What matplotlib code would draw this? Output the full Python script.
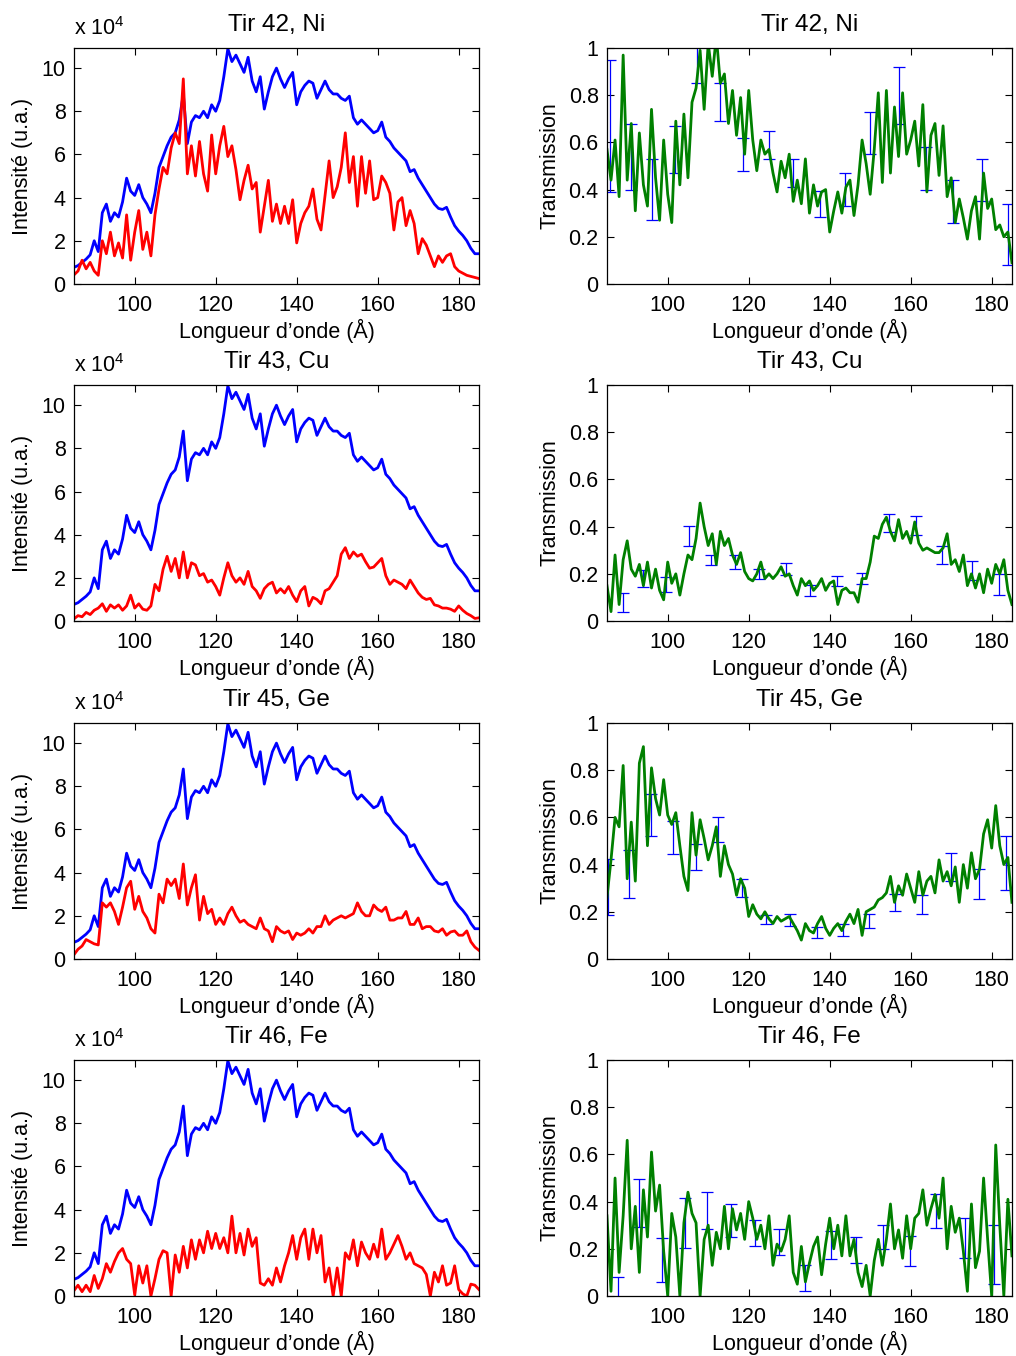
import numpy as np
import matplotlib
matplotlib.use("Agg")
import matplotlib.pyplot as plt

plt.rcParams['font.family'] = ['Liberation Sans', 'DejaVu Sans']
plt.rcParams['mathtext.fontset'] = 'custom'
plt.rcParams['mathtext.rm'] = 'Liberation Sans'
plt.rcParams['mathtext.it'] = 'Liberation Sans:italic'

# ---------------- data ----------------
wavelength = np.arange(85, 186, 1)  # Angstrom, 85..185

# reference spectrum (x 1e4), identical in every left panel
ref_blue = [
    0.77, 0.85, 1.0, 1.15, 1.35, 2.0, 1.5, 3.3, 3.7, 2.9,
    3.3, 3.1, 3.8, 4.9, 4.3, 4.1, 4.6, 4.0, 3.7, 3.3,
    4.2, 5.4, 5.9, 6.4, 6.8, 7.0, 7.6, 8.8, 6.5, 7.5,
    7.8, 7.7, 8.0, 7.7, 8.3, 8.0, 8.5, 9.6, 10.9, 10.3,
    10.6, 10.2, 9.8, 10.5, 9.4, 8.9, 9.6, 8.1, 8.9, 9.6,
    10.0, 9.5, 9.1, 9.5, 9.8, 8.3, 8.9, 9.2, 9.4, 9.3,
    8.6, 9.0, 9.4, 9.0, 8.8, 8.8, 8.6, 8.5, 8.7, 7.7,
    7.4, 7.6, 7.4, 7.2, 7.0, 7.1, 7.5, 6.8, 6.6, 6.3,
    6.1, 5.9, 5.7, 5.2, 5.3, 4.9, 4.6, 4.3, 4.0, 3.7,
    3.5, 3.45, 3.55, 3.1, 2.7, 2.45, 2.25, 2.0, 1.65, 1.4,
    1.4]

# transmitted spectra (x 1e4)
red_ni = [
    0.42, 0.6, 1.1, 0.7, 1.0, 0.6, 0.4, 2.0, 1.4, 2.4,
    1.3, 1.9, 1.2, 3.2, 1.1, 2.4, 3.4, 1.6, 2.4, 1.3,
    3.2, 4.4, 5.4, 5.1, 6.3, 7.0, 6.5, 9.5, 5.1, 6.4,
    5.0, 6.6, 5.1, 4.3, 6.9, 5.1, 6.4, 7.3, 5.9, 6.4,
    5.3, 3.9, 4.8, 5.5, 4.4, 4.7, 2.4, 3.6, 4.8, 2.9,
    3.7, 2.8, 3.6, 2.8, 3.9, 1.9, 2.8, 3.3, 3.6, 4.4,
    3.0, 2.5, 4.1, 5.7, 4.0, 4.5, 5.4, 7.0, 4.7, 5.9,
    3.6, 5.9, 4.2, 5.7, 3.9, 4.0, 5.0, 4.7, 4.2, 2.5,
    3.8, 4.0, 2.7, 3.4, 2.8, 1.4, 2.1, 1.8, 1.3, 0.8,
    1.3, 1.0, 1.3, 1.4, 0.8, 0.6, 0.5, 0.4, 0.35, 0.3,
    0.25]
red_cu = [
    0.1, 0.25, 0.2, 0.4, 0.3, 0.5, 0.6, 0.8, 0.45, 0.75,
    0.6, 0.75, 0.5, 0.7, 1.2, 0.6, 0.8, 0.55, 0.5, 0.7,
    1.7, 1.4, 2.4, 3.0, 2.3, 2.9, 2.0, 3.2, 2.0, 2.7,
    2.6, 2.1, 2.2, 1.8, 1.9, 1.6, 1.2, 2.0, 2.7, 2.1,
    1.8, 2.0, 1.7, 2.3, 1.6, 1.4, 1.05, 1.5, 1.7, 1.8,
    1.3, 1.5, 1.3, 1.6, 1.2, 0.9, 1.4, 1.6, 0.7, 1.1,
    1.0, 0.8, 1.4, 1.5, 1.8, 2.1, 3.1, 3.4, 2.9, 3.2,
    3.0, 3.1, 2.75, 2.45, 2.5, 2.7, 2.9, 2.1, 1.7, 1.9,
    1.8, 1.7, 1.5, 1.9, 1.6, 1.3, 1.1, 1.0, 1.05, 0.75,
    0.7, 0.6, 0.6, 0.55, 0.45, 0.7, 0.5, 0.35, 0.25, 0.12,
    0.15]
red_ge = [
    0.2, 0.45, 0.6, 0.9, 0.8, 0.7, 0.65, 2.6, 2.4, 2.6,
    2.2, 1.6, 2.4, 3.3, 3.6, 2.3, 2.9, 2.2, 1.9, 1.4,
    1.2, 3.0, 2.6, 3.7, 3.4, 3.7, 2.8, 4.4, 2.5, 3.3,
    3.9, 1.8, 2.9, 2.1, 2.3, 1.6, 1.9, 1.6, 2.1, 2.4,
    2.0, 1.7, 1.8, 1.6, 1.5, 1.4, 1.9, 1.4, 1.3, 0.8,
    1.5, 1.3, 1.2, 1.3, 0.9, 1.2, 1.1, 1.2, 1.4, 1.2,
    1.5, 1.5, 2.0, 1.6, 1.8, 1.9, 2.0, 1.9, 2.0, 2.1,
    2.6, 2.2, 2.0, 2.0, 2.5, 2.3, 2.2, 2.4, 1.8, 1.8,
    1.9, 1.9, 2.2, 1.6, 1.6, 1.9, 1.4, 1.5, 1.5, 1.3,
    1.25, 1.4, 1.1, 1.25, 1.3, 1.1, 1.1, 1.3, 0.8, 0.55,
    0.4]
red_fe = [
    0.25, 0.5, 0.2, 0.5, 0.2, 0.95, 0.35, 0.8, 1.5, 1.1,
    1.6, 2.0, 2.2, 1.7, 1.5, 0.05, 1.4, 0.6, 1.4, 0.0,
    0.8, 1.7, 2.1, 2.0, 0.0, 1.9, 1.1, 2.3, 1.3, 2.6,
    1.7, 2.6, 2.0, 3.0, 2.2, 2.9, 2.2, 2.7, 2.0, 3.7,
    2.0, 2.9, 1.9, 3.1, 2.3, 2.7, 0.6, 0.5, 0.8, 0.5,
    1.3, 0.65, 1.4, 2.0, 2.8, 1.7, 2.7, 3.1, 1.7, 3.1,
    2.0, 2.8, 0.65, 1.3, 0.0, 1.3, 0.0, 2.0, 1.7, 2.6,
    1.4, 2.5, 2.0, 1.7, 2.4, 1.8, 3.1, 1.7, 2.0, 2.4,
    2.8, 2.3, 1.7, 2.0, 1.5, 1.4, 1.3, 1.0, 0.0, 1.1,
    0.65, 1.4, 0.5, 0.6, 1.4, 0.3, 0.1, 0.0, 0.55, 0.5,
    0.3]

# transmission curves
trans_ni = [
    0.57, 0.44, 0.61, 0.37, 0.97, 0.44, 0.68, 0.31, 0.64, 0.42,
    0.33, 0.74, 0.45, 0.27, 0.61, 0.38, 0.26, 0.69, 0.42, 0.72,
    0.45, 0.77, 0.83, 0.99, 0.74, 1.02, 0.88, 1.05, 0.85, 0.89,
    0.68, 0.82, 0.63, 0.79, 0.55, 0.82, 0.61, 0.48, 0.61, 0.55,
    0.57, 0.47, 0.39, 0.52, 0.45, 0.55, 0.35, 0.44, 0.34, 0.53,
    0.3, 0.42, 0.33, 0.39, 0.4, 0.22, 0.31, 0.39, 0.3, 0.41,
    0.44, 0.29, 0.42, 0.61, 0.51, 0.38, 0.57, 0.81, 0.43, 0.82,
    0.47, 0.75, 0.54, 0.81, 0.55, 0.61, 0.69, 0.5, 0.76, 0.39,
    0.63, 0.68, 0.46, 0.67, 0.37, 0.45, 0.26, 0.36, 0.28, 0.19,
    0.31, 0.37, 0.19, 0.47, 0.32, 0.36, 0.23, 0.25, 0.2, 0.22,
    0.09]
trans_cu = [
    0.15, 0.04, 0.28, 0.07, 0.26, 0.34, 0.22, 0.19, 0.24, 0.15,
    0.25, 0.14, 0.22, 0.13, 0.09, 0.25, 0.16, 0.2, 0.11, 0.2,
    0.28, 0.26, 0.35, 0.5, 0.4, 0.32, 0.37, 0.24, 0.38, 0.32,
    0.35, 0.28, 0.24, 0.29, 0.21, 0.18, 0.17, 0.2, 0.25, 0.18,
    0.2, 0.18, 0.2, 0.23, 0.19, 0.2, 0.15, 0.11, 0.18, 0.15,
    0.17, 0.13, 0.15, 0.18, 0.13, 0.16, 0.17, 0.07, 0.13, 0.14,
    0.12, 0.12, 0.08, 0.18, 0.18, 0.25, 0.36, 0.35, 0.41, 0.44,
    0.38, 0.34, 0.43, 0.35, 0.38, 0.33, 0.42, 0.33, 0.3, 0.31,
    0.3, 0.29, 0.29, 0.31, 0.37, 0.24, 0.26, 0.21, 0.28, 0.15,
    0.2, 0.14, 0.2, 0.12, 0.22, 0.16, 0.24, 0.2, 0.26, 0.13,
    0.07]
trans_ge = [
    0.26, 0.42, 0.6, 0.56, 0.82, 0.34, 0.58, 0.33, 0.83, 0.9,
    0.48, 0.81, 0.68, 0.61, 0.76, 0.61, 0.57, 0.62, 0.48, 0.35,
    0.29, 0.62, 0.44, 0.59, 0.51, 0.42, 0.48, 0.56, 0.35, 0.48,
    0.4, 0.36, 0.27, 0.34, 0.3, 0.18, 0.23, 0.19, 0.17, 0.2,
    0.17, 0.15, 0.18, 0.16, 0.17, 0.18, 0.15, 0.12, 0.08, 0.15,
    0.12, 0.11, 0.15, 0.18, 0.13, 0.1, 0.13, 0.15, 0.12, 0.16,
    0.19, 0.15, 0.21, 0.1, 0.2, 0.21, 0.22, 0.25, 0.26, 0.28,
    0.35, 0.24, 0.31, 0.27, 0.36, 0.3, 0.24, 0.37, 0.27, 0.33,
    0.35, 0.28, 0.42, 0.33, 0.37, 0.31, 0.39, 0.24, 0.4, 0.3,
    0.45, 0.34, 0.38, 0.53, 0.59, 0.47, 0.65, 0.48, 0.4, 0.43,
    0.24]
trans_fe = [
    0.34, 0.02, 0.5, 0.1, 0.34, 0.66, 0.2, 0.38, 0.1, 0.45,
    0.25, 0.61, 0.36, 0.47, 0.19, 0.0, 0.35, 0.25, 0.0, 0.31,
    0.44, 0.35, 0.31, 0.0, 0.24, 0.3, 0.13, 0.27, 0.2, 0.38,
    0.2, 0.37, 0.28, 0.35, 0.24, 0.4, 0.33, 0.24, 0.3, 0.2,
    0.34, 0.13, 0.22, 0.19, 0.24, 0.34, 0.1, 0.05, 0.21, 0.06,
    0.14, 0.21, 0.25, 0.09, 0.22, 0.33, 0.2, 0.3, 0.17, 0.34,
    0.17, 0.24, 0.1, 0.04, 0.13, 0.0, 0.15, 0.24, 0.13, 0.24,
    0.39, 0.2, 0.28, 0.16, 0.34, 0.2, 0.33, 0.35, 0.45, 0.3,
    0.37, 0.43, 0.33, 0.5, 0.2, 0.38, 0.27, 0.33, 0.19, 0.02,
    0.39, 0.12, 0.19, 0.5, 0.24, 0.0, 0.64, 0.3, 0.0, 0.41,
    0.17]

# error bars on the transmission
err_x_ni = [85.7, 91, 96, 101.7, 107.3, 112.8, 118.7, 125, 131, 137.5, 143.8, 150, 157, 163.7, 170.5, 177.5, 184]
err_y_ni = [0.67, 0.54, 0.40, 0.57, 0.93, 0.77, 0.55, 0.59, 0.47, 0.34, 0.40, 0.64, 0.80, 0.49, 0.35, 0.44, 0.21]
err_e_ni = [0.28, 0.14, 0.13, 0.10, 0.08, 0.08, 0.07, 0.06, 0.06, 0.055, 0.07, 0.09, 0.12, 0.09, 0.09, 0.09, 0.13]

err_x_cu = [89, 93.9, 99.7, 105.3, 110.8, 116.5, 122.5, 129.1, 135.2, 141.7, 148, 154.7, 161.3, 167.8, 175.2, 181.8]
err_y_cu = [0.078, 0.18, 0.155, 0.36, 0.258, 0.25, 0.20, 0.22, 0.13, 0.17, 0.18, 0.416, 0.406, 0.28, 0.215, 0.155]
err_e_cu = [0.041, 0.035, 0.03, 0.042, 0.022, 0.028, 0.022, 0.025, 0.022, 0.021, 0.025, 0.039, 0.04, 0.039, 0.04, 0.045]

err_x_ge = [85.3, 90.4, 95.8, 101.2, 106.9, 112.4, 118.4, 124.3, 130.3, 136.8, 143.2, 149.8, 156.2, 162.8, 169.9, 176.9, 183.6]
err_y_ge = [0.305, 0.36, 0.61, 0.516, 0.432, 0.548, 0.30, 0.168, 0.164, 0.113, 0.123, 0.161, 0.24, 0.23, 0.39, 0.318, 0.407]
err_e_ge = [0.12, 0.10, 0.088, 0.07, 0.056, 0.053, 0.037, 0.02, 0.025, 0.023, 0.025, 0.029, 0.037, 0.04, 0.058, 0.064, 0.116]

err_x_fe = [87.8, 93, 98.5, 104.2, 109.7, 115.7, 121.6, 127.6, 133.8, 140.2, 146.5, 153.1, 159.8, 166.2, 173.4, 180.6]
err_y_fe = [0.03, 0.394, 0.152, 0.31, 0.364, 0.32, 0.265, 0.23, 0.075, 0.215, 0.194, 0.25, 0.19, 0.36, 0.245, 0.176]
err_e_fe = [0.05, 0.1, 0.094, 0.106, 0.078, 0.072, 0.055, 0.056, 0.055, 0.06, 0.055, 0.05, 0.063, 0.072, 0.085, 0.125]

titles = ["Tir 42, Ni", "Tir 43, Cu", "Tir 45, Ge", "Tir 46, Fe"]
reds = [red_ni, red_cu, red_ge, red_fe]
trans = [trans_ni, trans_cu, trans_ge, trans_fe]
errs = [(err_x_ni, err_y_ni, err_e_ni), (err_x_cu, err_y_cu, err_e_cu),
        (err_x_ge, err_y_ge, err_e_ge), (err_x_fe, err_y_fe, err_e_fe)]

x_ticks = [100, 120, 140, 160, 180]
x_ticklabels = ["100", "120", "140", "160", "180"]
left_yticks = [0, 2, 4, 6, 8, 10]
left_yticklabels = ["0", "2", "4", "6", "8", "10"]
right_yticks = [0, 0.2, 0.4, 0.6, 0.8, 1.0]
right_yticklabels = ["0", "0.2", "0.4", "0.6", "0.8", "1"]

xlabel = "Longueur d\u2019onde (\u00c5)"
ylabel_left = "Intensit\u00e9 (u.a.)"
ylabel_right = "Transmission"

# ---------------- figure ----------------
FS = 15.5
FS_TITLE = 17.5
LW = 2.0
fig = plt.figure(figsize=(10.16, 13.56), dpi=100)
bottoms = [0.7906, 0.5420, 0.2928, 0.04425]
height = 0.174
lefts = [0.0728, 0.5974]
width = 0.3986


def style(ax):
    ax.set_xlim(85, 185)
    ax.set_xticks(x_ticks)
    ax.set_xticklabels(x_ticklabels)
    ax.tick_params(direction='in', top=True, right=True, length=5, width=0.8,
                   labelsize=FS, pad=6)
    ax.tick_params(axis='x', pad=8)
    for s in ax.spines.values():
        s.set_linewidth(0.9)
    ax.set_xlabel(xlabel, fontsize=FS, labelpad=2)


for i in range(4):
    axl = fig.add_axes([lefts[0], bottoms[i], width, height])
    axl.plot(wavelength, ref_blue, color='#0000ff', lw=LW)
    axl.plot(wavelength, reds[i], color='#ff0000', lw=LW)
    style(axl)
    axl.set_ylim(0, 10.93)
    axl.set_yticks(left_yticks)
    axl.set_yticklabels(left_yticklabels)
    axl.set_ylabel(ylabel_left, fontsize=FS, labelpad=6)
    axl.set_title(titles[i], fontsize=FS_TITLE, pad=12)
    axl.text(0.0, 1.035, r"x 10$^{\mathrm{4}}$", transform=axl.transAxes,
             ha='left', va='bottom', fontsize=FS)

    axr = fig.add_axes([lefts[1], bottoms[i], width, height])
    ex, ey, ee = errs[i]
    axr.errorbar(ex, ey, yerr=ee, fmt='none', ecolor='#0000ff', elinewidth=0.9,
                 capsize=4, capthick=0.9)
    axr.plot(wavelength, trans[i], color='#008000', lw=LW)
    style(axr)
    axr.set_ylim(0, 1)
    axr.set_yticks(right_yticks)
    axr.set_yticklabels(right_yticklabels)
    axr.set_ylabel(ylabel_right, fontsize=FS, labelpad=6)
    axr.set_title(titles[i], fontsize=FS_TITLE, pad=12)

fig.savefig("out.png", dpi=100)
